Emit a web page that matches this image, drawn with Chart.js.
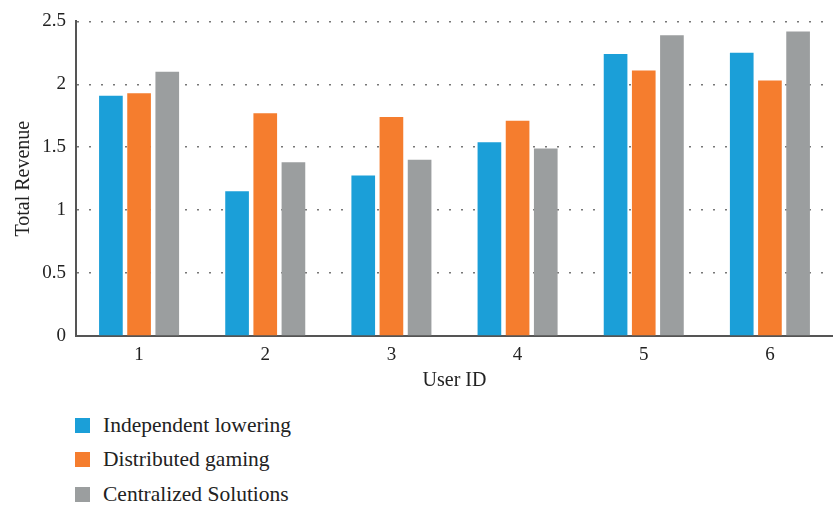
<!DOCTYPE html>
<html>
<head>
<meta charset="utf-8">
<script src="https://cdn.jsdelivr.net/npm/chart.js@4"></script>
<style>
  body { margin: 0; background: #fff; }
  #wrap { position: relative; width: 833px; height: 507px; }
  #box { position: absolute; left: 0; top: 0; width: 833px; height: 400px; }
  #legend { position: absolute; left: 75px; top: 408px; font-family: "Liberation Serif", serif; font-size: 21.5px; color: #222; }
  .item { display: flex; align-items: center; height: 34.6px; }
  .swatch { width: 15px; height: 15px; margin-right: 13px; }
</style>
</head>
<body>
<div id="wrap">
  <div id="box"><canvas id="chart"></canvas></div>
  <div id="legend"></div>
</div>
<script>
const userIds = ['1', '2', '3', '4', '5', '6'];
const independentLowering = [1.91, 1.15, 1.275, 1.54, 2.24, 2.25];
const distributedGaming = [1.93, 1.77, 1.74, 1.71, 2.11, 2.03];
const centralizedSolutions = [2.10, 1.38, 1.40, 1.49, 2.39, 2.42];
const seriesNames = ['Independent lowering', 'Distributed gaming', 'Centralized Solutions'];
const seriesColors = ['#1b9fd8', '#f57d2e', '#9b9e9f'];

const serif = "'Liberation Serif', 'Times New Roman', serif";

const chart = new Chart(document.getElementById('chart'), {
  type: 'bar',
  data: {
    labels: userIds,
    datasets: [independentLowering, distributedGaming, centralizedSolutions].map((vals, i) => ({
      label: seriesNames[i],
      data: vals,
      backgroundColor: seriesColors[i],
      categoryPercentage: 0.67,
      barPercentage: 0.84
    }))
  },
  options: {
    responsive: true,
    maintainAspectRatio: false,
    animation: false,
    layout: { padding: { top: 16, right: 0, left: 0, bottom: 0 } },
    plugins: {
      legend: { display: false },
      tooltip: { enabled: false }
    },
    scales: {
      x: {
        grid: { display: false },
        border: { display: true, color: '#555', width: 2 },
        ticks: { color: '#222', padding: 0, font: { family: serif, size: 19 } },
        title: { display: true, text: 'User ID', color: '#222', padding: { top: 4, bottom: 7 }, font: { family: serif, size: 20 } },
        afterFit(scale) { scale.height = 64; }
      },
      y: {
        min: 0,
        max: 2.5,
        ticks: { stepSize: 0.5, color: '#222', padding: 10, font: { family: serif, size: 19 }, callback: v => String(v) },
        grid: { color: '#777', lineWidth: 1.5, drawTicks: false },
        border: { display: true, color: '#555', width: 2, dash: [2, 10] },
        title: { display: true, text: 'Total Revenue', color: '#222', padding: { top: 12, bottom: 0 }, font: { family: serif, size: 20 } },
        afterFit(scale) { scale.width = 76; }
      }
    }
  }
});

document.getElementById('legend').innerHTML = chart.data.datasets.map(ds => `
  <div class="item"><span class="swatch" style="background:${ds.backgroundColor}"></span>${ds.label}</div>
`).join('');
</script>
</body>
</html>
